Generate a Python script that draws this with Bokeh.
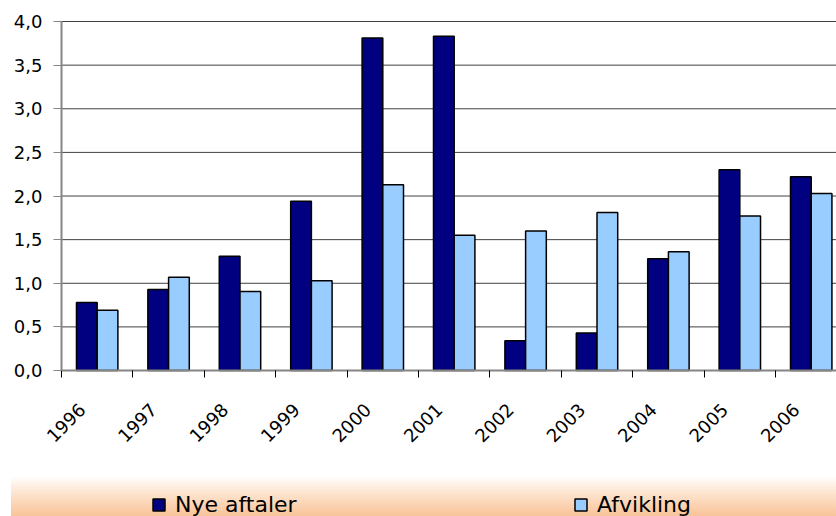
import numpy as np
from math import pi
from bokeh.plotting import figure
from bokeh.models import Range1d, FixedTicker, Legend, LegendItem, ColumnDataSource
from bokeh.transform import dodge
from bokeh.embed import file_html
from bokeh.resources import INLINE

years = ["1996", "1997", "1998", "1999", "2000", "2001", "2002", "2003", "2004", "2005", "2006"]
nye_aftaler = [0.78, 0.93, 1.31, 1.94, 3.81, 3.83, 0.34, 0.43, 1.28, 2.30, 2.22]
afvikling = [0.69, 1.07, 0.905, 1.03, 2.13, 1.55, 1.60, 1.81, 1.36, 1.77, 2.03]
y_ticks = [0.0, 0.5, 1.0, 1.5, 2.0, 2.5, 3.0, 3.5, 4.0]
y_tick_labels = ["0,0", "0,5", "1,0", "1,5", "2,0", "2,5", "3,0", "3,5", "4,0"]

idx = np.arange(len(years))
centers = list(idx + 0.5)
bounds = list(np.arange(len(years) + 1).astype(float))
label_pos = [round(float(v), 3) for v in idx + 0.29]

X_START, X_END = -0.854, 10.854
Y_START, Y_END = -1.673, 4.241

src = ColumnDataSource(dict(x=centers, nye=nye_aftaler, afv=afvikling))
grid_src = ColumnDataSource(dict(y=y_ticks, x0=[0.0] * len(y_ticks), x1=[X_END] * len(y_ticks)))

FONT = "DejaVu Sans"

p = figure(width=836, height=516, output_backend="svg", toolbar_location=None,
           x_range=Range1d(X_START, X_END), y_range=Range1d(Y_START, Y_END),
           min_border_left=0, min_border_right=0, min_border_top=0, min_border_bottom=0)
p.border_fill_color = None
p.outline_line_color = None
p.background_fill_color = None
p.styles = {
    "background-image": "linear-gradient(to bottom, #ffffff 0%, #fde6d2 40%, #f9c398 100%)",
    "background-repeat": "no-repeat",
    "background-position": "11px 476px",
    "background-size": "825px 40px",
}

# horizontal grid lines (only across the plot area)
p.segment(x0="x0", x1="x1", y0="y", y1="y", source=grid_src, line_color="#404040", line_width=1)

r1 = p.vbar(x=dodge("x", -0.145, range=p.x_range), top="nye", width=0.29, source=src,
            fill_color="#000080", line_color="black", line_width=1.5)
r2 = p.vbar(x=dodge("x", 0.145, range=p.x_range), top="afv", width=0.29, source=src,
            fill_color="#99CCFF", line_color="black", line_width=1.5)

# y axis (sits at x = 0)
p.yaxis.fixed_location = 0
p.yaxis.ticker = FixedTicker(ticks=y_ticks)
p.yaxis.bounds = (0, 4)
p.yaxis.major_label_overrides = {t: l for t, l in zip(y_ticks, y_tick_labels)}
p.yaxis.major_label_text_font = FONT
p.yaxis.major_label_text_font_size = "18px"
p.yaxis.major_label_text_color = "black"
p.yaxis.major_label_standoff = 11
p.yaxis.major_tick_out = 8
p.yaxis.major_tick_in = 0
p.yaxis.minor_tick_line_color = None
p.yaxis.axis_line_color = "#868686"
p.yaxis.axis_line_width = 2
p.yaxis.major_tick_line_color = "#868686"

# x axis (sits at y = 0)
p.xaxis.fixed_location = 0
p.xaxis.bounds = (0, X_END)
p.xaxis.ticker = FixedTicker(ticks=label_pos, minor_ticks=bounds)
p.xaxis.major_label_overrides = {c: y for c, y in zip(label_pos, years)}
p.xaxis.major_label_orientation = pi / 4
p.xaxis.major_label_text_font = FONT
p.xaxis.major_label_text_font_size = "18px"
p.xaxis.major_label_text_color = "black"
p.xaxis.major_label_standoff = 29
p.xaxis.major_tick_line_color = None
p.xaxis.minor_tick_out = 7
p.xaxis.minor_tick_in = 0
p.xaxis.minor_tick_line_color = "black"
p.xaxis.axis_line_color = "#868686"
p.xaxis.axis_line_width = 2

p.xgrid.grid_line_color = None
p.ygrid.grid_line_color = None

legend = Legend(items=[LegendItem(label="Nye aftaler", renderers=[r1]),
                       LegendItem(label="Afvikling", renderers=[r2])],
                orientation="horizontal", location=(151, -1),
                padding=0, margin=0, spacing=0,
                glyph_width=15, glyph_height=15, label_standoff=9, label_width=398,
                label_text_font=FONT, label_text_font_size="22px", label_text_color="black",
                border_line_color=None, background_fill_alpha=0)
p.add_layout(legend)

open("out.html", "w").write(file_html(p, INLINE))
